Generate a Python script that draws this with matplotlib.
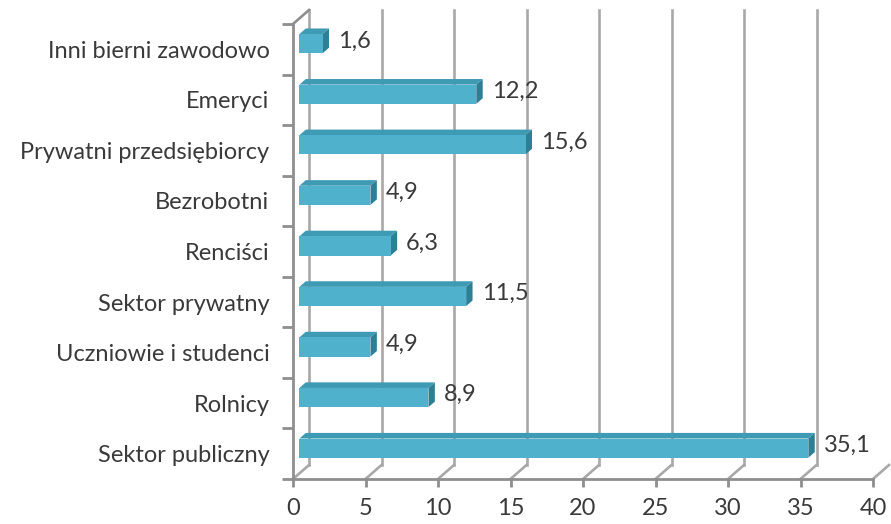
import numpy as np
import matplotlib
matplotlib.use('Agg')
import matplotlib.pyplot as plt
from matplotlib.patches import Polygon
from matplotlib.transforms import ScaledTranslation

plt.rcParams['font.family'] = ['Lato', 'DejaVu Sans']

# categories listed bottom to top
categories = ['Sektor publiczny', 'Rolnicy', 'Uczniowie i studenci', 'Sektor prywatny',
              'Renciści', 'Bezrobotni', 'Prywatni przedsiębiorcy', 'Emeryci',
              'Inni bierni zawodowo']
values = [35.1, 8.9, 4.9, 11.5, 6.3, 4.9, 15.6, 12.2, 1.6]
x_ticks = [0, 5, 10, 15, 20, 25, 30, 35, 40]

DPI = 100
DEPTH = np.array([16.0, 14.0])   # wall depth in pixels (right, up)
BAR_FRONT, BAR_BACK = 0.4, 0.8   # bar placement inside the depth
BAR_H = 0.38
FS = 17

FACE = '#4FB1CB'
TOP = '#3F9AB3'
SIDE = '#2D7F94'
GRID = '#A8A8A8'
AXIS = '#8E8E8E'
TEXT = '#3A3A3A'

fig = plt.figure(figsize=(8.91, 5.24), dpi=DPI)
ax = fig.add_axes([293 / 891, 45 / 524, 580 / 891, 455 / 524])
y = np.arange(len(categories))
ax.set_xlim(0, 40)
ax.set_ylim(-0.5, len(categories) - 0.5)
for s in ax.spines.values():
    s.set_visible(False)
ax.patch.set_visible(False)

ymin, ymax = ax.get_ylim()


def deep(x, yy, f):
    # push a data point back into the depth by fraction f
    p = ax.transData.transform((x, yy)) + f * DEPTH
    return ax.transData.inverted().transform(p)


def shift(f):
    return ax.transData + ScaledTranslation(f * DEPTH[0] / DPI, f * DEPTH[1] / DPI,
                                            fig.dpi_scale_trans)


# back wall gridlines and floor diagonals
for xv in x_ticks:
    if xv < 40:
        ax.plot([xv, xv], [ymin, ymax], color=GRID, lw=1.9, transform=shift(1),
                clip_on=False, zorder=1)
    b = deep(xv, ymin, 1)
    ax.plot([xv, b[0]], [ymin, b[1]], color=GRID, lw=1.9, clip_on=False, zorder=1)

# front wall and floor edges
t = deep(0, ymax, 1)
ax.plot([0, t[0]], [ymax, t[1]], color=AXIS, lw=1.9, clip_on=False, zorder=2)
ax.plot([0, 0], [ymin, ymax], color=AXIS, lw=2.0, clip_on=False, zorder=2)
ax.plot([0, 40], [ymin, ymin], color=AXIS, lw=2.0, clip_on=False, zorder=2)

# bars: front face plus top and side faces
ax.barh(y, values, height=BAR_H, color=FACE, transform=shift(BAR_FRONT),
        zorder=4, clip_on=False)
for yv, v in zip(y, values):
    top_y, bot_y = yv + BAR_H / 2, yv - BAR_H / 2
    ftl, ftr, fbr = deep(0, top_y, BAR_FRONT), deep(v, top_y, BAR_FRONT), deep(v, bot_y, BAR_FRONT)
    btl, btr, bbr = deep(0, top_y, BAR_BACK), deep(v, top_y, BAR_BACK), deep(v, bot_y, BAR_BACK)
    ax.add_patch(Polygon([ftl, ftr, btr, btl], closed=True, facecolor=TOP,
                         edgecolor='none', zorder=3, clip_on=False))
    ax.add_patch(Polygon([ftr, fbr, bbr, btr], closed=True, facecolor=SIDE,
                         edgecolor='none', zorder=3, clip_on=False))
    ax.annotate(f'{v:.1f}'.replace('.', ','), (v, yv),
                xytext=((BAR_BACK * DEPTH[0] + 9) * 0.72, (BAR_FRONT + BAR_BACK) / 2 * DEPTH[1] * 0.72),
                textcoords='offset points', ha='left', va='center',
                fontsize=FS, color=TEXT, zorder=5)

# ticks
ax.set_xticks(x_ticks)
ax.set_xticklabels([str(v) for v in x_ticks])
ax.set_yticks(y)
ax.set_yticklabels(categories)
ax.set_yticks(np.arange(len(categories) + 1) - 0.5, minor=True)
ax.tick_params(axis='x', length=6, width=2, color=AXIS, labelsize=FS,
               labelcolor=TEXT, pad=8)
ax.tick_params(axis='y', which='major', length=0, labelsize=FS,
               labelcolor=TEXT, pad=17)
ax.tick_params(axis='y', which='minor', length=8, width=2, color=AXIS)

fig.savefig('out.png', dpi=DPI)
